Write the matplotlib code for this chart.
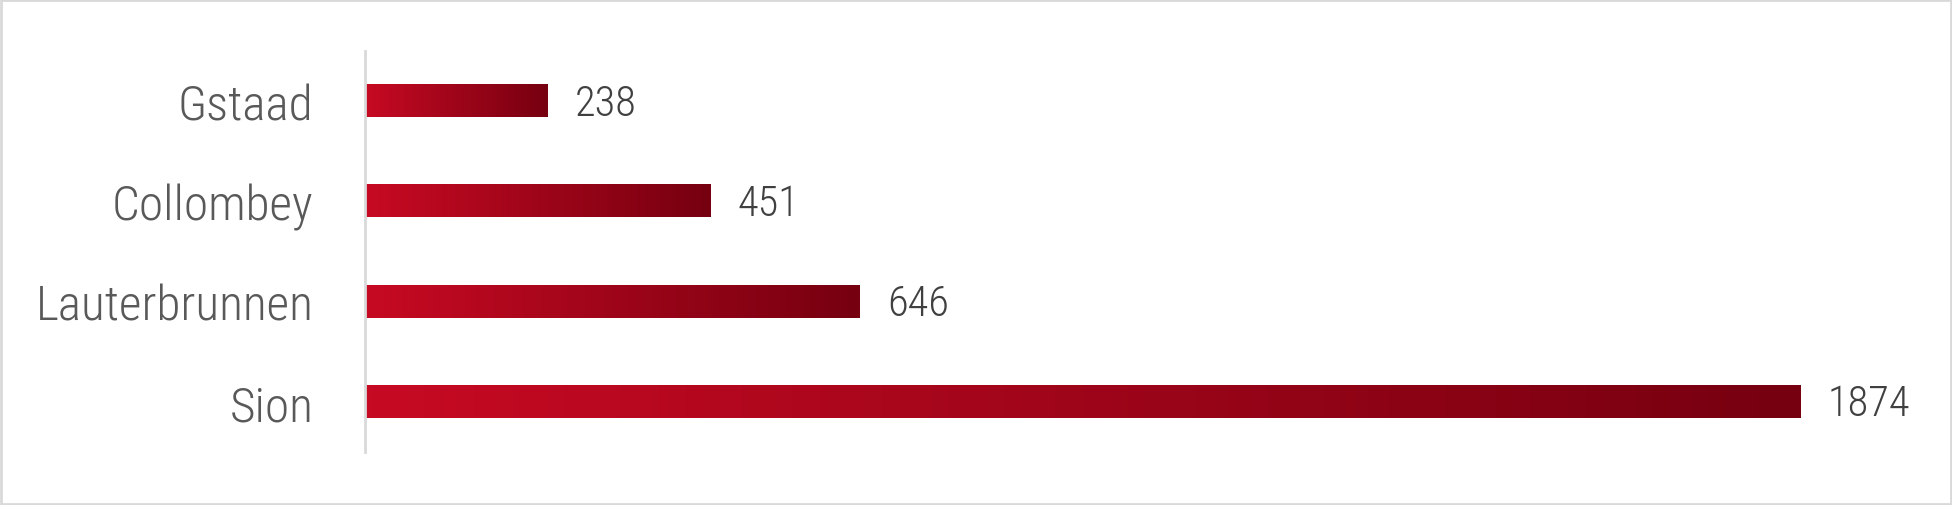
import matplotlib
matplotlib.use("Agg")
import matplotlib.pyplot as plt
from matplotlib import font_manager
from matplotlib.patches import Rectangle
import numpy as np

categories = ["Gstaad", "Collombey", "Lauterbrunnen", "Sion"]
values = [238, 451, 646, 1874]

names = sorted({f.name for f in font_manager.fontManager.ttflist})
cands = ["Roboto Condensed", "Liberation Sans Narrow", "Open Sans Condensed", "DejaVu Sans Condensed", "Roboto"]
family = next((c for c in cands if c in names), "DejaVu Sans")
plt.rcParams['font.family'] = [family, 'DejaVu Sans']

fig = plt.figure(figsize=(19.52, 5.06), dpi=100)
ax = fig.add_axes([365/1952, 1 - 453/506, (1905-365)/1952, (453-52)/506])

y = np.arange(len(categories))[::-1]
bars = ax.barh(y, values, height=0.32, color='none', edgecolor='none')
ax.set_xlim(0, 2010)
ax.set_ylim(-0.5, 3.5)

grad = np.linspace(0, 1, 256).reshape(1, -1)
cmap = matplotlib.colors.LinearSegmentedColormap.from_list("r", ["#C70A23", "#760010"])
for b, v in zip(bars, values):
    x0, y0 = b.get_x(), b.get_y()
    w, h = b.get_width(), b.get_height()
    ax.imshow(grad, extent=[x0, x0 + w, y0, y0 + h], cmap=cmap, aspect='auto', zorder=2, interpolation='bicubic')
    ax.text(x0 + w + 27 * 2010 / 1540, y0 + h / 2 - 0.02, str(v), va='center', ha='left',
            fontsize=30.5, color='#404040', fontweight='light')
ax.set_xlim(0, 2010)
ax.set_ylim(-0.5, 3.5)

ax.set_yticks(y)
ax.set_yticklabels(categories, fontsize=35.5, color='#595959', fontweight='light')
ax.tick_params(axis='y', length=0, pad=37)
ax.set_xticks([])
for s in ['top', 'right', 'bottom']:
    ax.spines[s].set_visible(False)
ax.spines['left'].set_color('#d9d9d9')
ax.spines['left'].set_linewidth(2)

fig.patches.append(Rectangle((0.0005, 0.002), 0.999, 0.996, transform=fig.transFigure,
                             fill=False, edgecolor='#d9d9d9', linewidth=2))
fig.savefig("out.png", dpi=100)
